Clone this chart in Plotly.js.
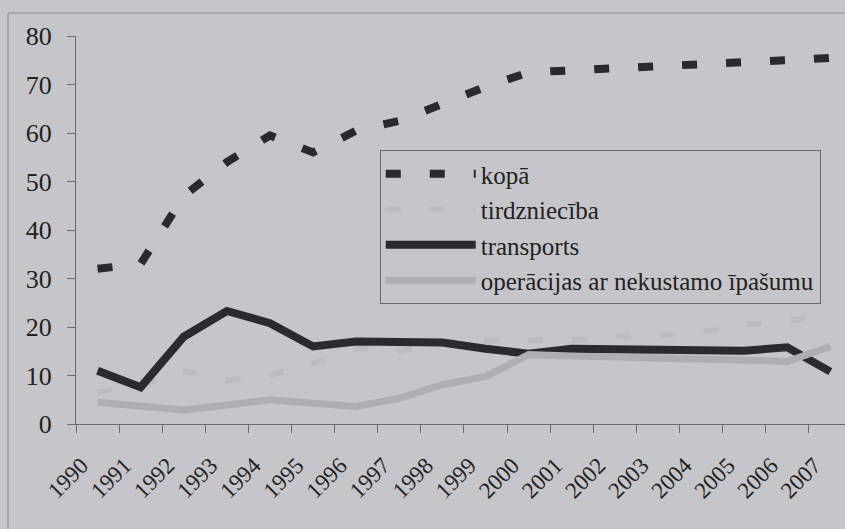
<!DOCTYPE html>
<html>
<head>
<meta charset="utf-8">
<script src="https://cdn.plot.ly/plotly-3.0.1.min.js"></script>
<style>
html,body{margin:0;padding:0;background:#c6c5ca;}
#chart{width:845px;height:529px;}
</style>
</head>
<body>
<div id="chart"></div>
<script>
var years = ["1990","1991","1992","1993","1994","1995","1996","1997","1998","1999","2000","2001","2002","2003","2004","2005","2006","2007"];
var kopa = [32, 33, 47, 54, 59.5, 56, 60.5, 62.5, 66, 69.5, 72.5, 73, 73.5, 74, 74.3, 74.6, 75, 75.5];
var tirdznieciba = [6.5, 8, 11, 9, 10, 12.5, 15.5, 15, 17, 17, 17.3, 17.3, 18, 18.2, 19, 20.5, 21.2, 22.5];
var transports = [11, 7.6, 18, 23.3, 20.8, 16, 17, 17, 16.8, 15.5, 14.5, 15.5, 15.5, 15.5, 15.3, 15.1, 15.8, 10.8];
var operacijas = [4.5, 3.6, 2.9, 3.9, 5, 4.3, 3.6, 5.3, 8.1, 9.8, 14.3, 14, 13.8, 13.8, 13.6, 13.3, 12.9, 16];
var names = ["kopā", "tirdzniecība", "transports", "operācijas ar nekustamo īpašumu"];
var yTicks = [0, 10, 20, 30, 40, 50, 60, 70, 80];

var serif = "Liberation Serif";
var traces = [
  {x: years, y: kopa, name: names[0], type: "scatter", mode: "lines",
   line: {color: "#2a2a2e", width: 8, dash: "15px,29px"}},
  {x: years, y: tirdznieciba, name: names[1], type: "scatter", mode: "lines",
   line: {color: "#bdbdc1", width: 6, dash: "15px,29px"}},
  {x: years, y: transports, name: names[2], type: "scatter", mode: "lines",
   line: {color: "#2b2b2f", width: 8}},
  {x: years, y: operacijas, name: names[3], type: "scatter", mode: "lines",
   line: {color: "#aeaeb3", width: 7}}
];

var layout = {
  width: 845, height: 529,
  paper_bgcolor: "#c6c5ca", plot_bgcolor: "#c6c5ca",
  margin: {l: 76, r: 0, t: 36, b: 105},
  showlegend: true,
  font: {family: serif, color: "#222"},
  xaxis: {
    type: "category", range: [-0.5, 17.34],
    tickson: "boundaries", ticks: "outside", ticklen: 8, tickcolor: "#6a6a6e", tickwidth: 1,
    showline: true, linecolor: "#6a6a6e", linewidth: 1,
    showgrid: false, zeroline: false,
    tickangle: -45, tickfont: {family: serif, size: 23, color: "#222"},
    ticklabelshift: -16, ticklabelstandoff: 18
  },
  yaxis: {
    range: [0, 80], tickvals: yTicks, ticktext: yTicks.map(String),
    ticks: "outside", ticklen: 8, tickcolor: "#6a6a6e",
    showline: true, linecolor: "#6a6a6e", linewidth: 1,
    showgrid: false, zeroline: false,
    tickfont: {family: serif, size: 26, color: "#222"},
    ticklabelstandoff: 10
  },
  legend: {
    x: 0.395, y: 0.706, xanchor: "left", yanchor: "top",
    bgcolor: "rgba(0,0,0,0)", bordercolor: "#6a6a6e", borderwidth: 1,
    font: {family: serif, size: 25, color: "#222"},
    itemwidth: 90, tracegroupgap: 0
  },
  shapes: [
    {type: "line", xref: "paper", yref: "paper", x0: -0.0884, x1: 1.05, y0: 1.0593, y1: 1.0593,
     line: {color: "#8a8a8e", width: 1}},
    {type: "line", xref: "paper", yref: "paper", x0: -0.0884, x1: -0.0884, y0: 1.0593, y1: -0.3,
     line: {color: "#8a8a8e", width: 1}}
  ]
};

Plotly.newPlot("chart", traces, layout, {displayModeBar: false, staticPlot: true});
</script>
</body>
</html>
